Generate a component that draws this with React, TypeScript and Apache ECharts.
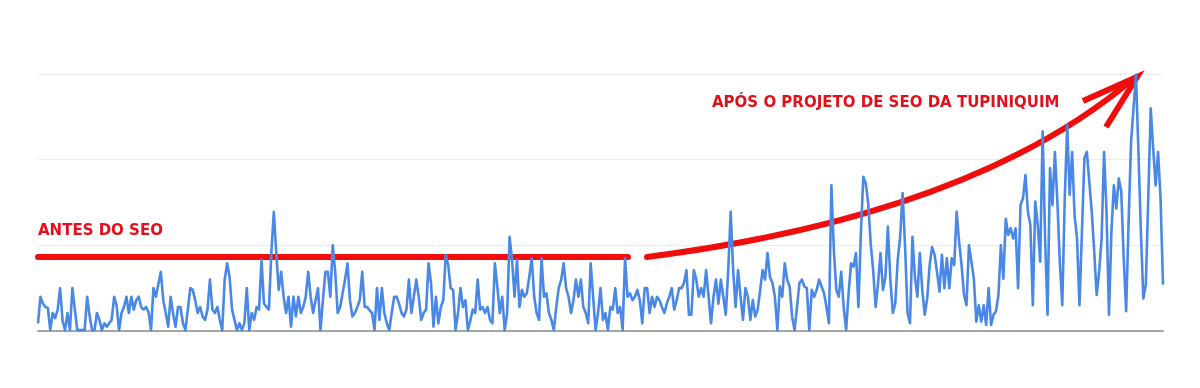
import React, { useEffect, useRef } from "react";
import * as echarts from "echarts";

// Daily sessions (y scale 0..300)
const periodA = [9, 40, 32, 28, 27, 1, 21, 15, 25, 50, 12, 1, 21, 1, 50, 25, 1, 1, 1, 1, 40, 18, 1, 1, 21, 13, 1, 9, 5, 9, 13, 40, 30, 1, 21, 28, 40, 21, 40, 25, 36, 40, 28, 25, 28, 22, 1, 50, 40, 55, 69, 36, 21, 5, 40, 20, 5, 28, 28];
const periodB = [9, 1, 25, 50, 48, 36, 21, 28, 17, 13, 25, 60, 25, 21, 28, 13, 1, 60, 79, 63, 25, 13, 1, 9, 1, 9, 50, 1, 21, 13, 28, 25, 83, 32, 28, 25, 91, 139, 91, 48, 69, 40, 21, 40, 5, 40, 17, 40, 21, 28, 40, 69, 40, 21, 36, 50];
const periodC = [1, 36, 69, 69, 40, 100, 69, 21, 28, 44, 60, 79, 36, 17, 21, 28, 36, 69, 28, 28, 24, 21, 1, 50, 13, 50, 21, 9, 1, 21, 40, 40, 32, 21, 17, 25, 60, 21, 40, 60, 40, 13, 21, 25, 79, 56, 5, 40, 9, 28, 36, 89, 77, 50, 48, 1, 21, 50, 28, 36, 1, 12, 25, 21, 60];
const periodD = [25, 28, 21, 28, 13, 9, 79, 52, 21, 40, 1, 21, 110, 83, 40, 83, 28, 48, 40, 44, 63, 85, 40, 21, 13, 85, 40, 44, 21, 13, 1, 28, 50, 60, 79, 50, 40, 21, 36, 60, 40, 60, 28, 21, 9, 79, 40, 1, 21, 50, 13, 21, 1, 28, 25, 50, 21, 28, 1, 85, 40, 44, 36];
const periodE = [40, 48, 36, 9, 50, 50, 21, 40, 28, 40, 36, 28, 21, 32, 40, 50, 25, 36, 50, 50, 56, 71, 19, 19, 71, 60, 40, 50, 40, 71, 40, 9, 40, 60, 32, 60, 40, 19, 71, 139, 71, 28, 71, 40, 13, 50, 40, 13, 36, 17, 25, 48, 71, 60, 91, 63, 56, 40, 1];
const periodF = [52, 40, 79, 60, 52, 17, 1, 28, 56, 60, 52, 50, 1, 48, 40, 48, 60, 52, 44, 28, 9, 170, 95, 48, 40, 69, 28, 1, 44, 79, 75, 91, 28, 114, 180, 172, 149, 102, 71, 28, 56, 91, 48, 63, 122, 60, 21, 32, 83, 110, 161, 98, 21, 9, 110, 63, 40, 91, 48];
const periodG = [19, 38, 77, 98, 89, 69, 46, 89, 50, 85, 50, 85, 77, 139, 104, 77, 42, 30, 100, 81, 61, 11, 30, 11, 30, 7, 50, 7, 19, 23, 42, 100, 61, 131, 112, 120, 108, 120, 50, 147, 155, 182, 139, 124, 30, 151, 124, 81, 233, 108, 19];
const periodH = [190, 147, 209, 151, 80, 30, 155, 240, 159, 209, 135, 108, 30, 116, 202, 209, 174, 139, 93, 42, 69, 108, 209, 140, 19, 116, 170, 143, 178, 163, 85, 23, 128, 221, 260, 299, 209, 116, 38, 54, 155, 260, 213, 170, 209, 155, 54];

const sessions = [...periodA, ...periodB, ...periodC, ...periodD, ...periodE, ...periodF, ...periodG, ...periodH];
const days = sessions.map((_, i) => `Dia ${i + 1}`);

const yMin = 0;
const yMax = 300;
const yInterval = 100;

const labelBefore = "ANTES DO SEO";
const labelAfter = "APÓS O PROJETO DE SEO DA TUPINIQUIM";

export default function App() {
  const ref = useRef<HTMLDivElement>(null);

  useEffect(() => {
    if (!ref.current) return;
    const chart = echarts.init(ref.current, null, { renderer: "svg" });
    const red = "#f20d0d";
    const textRed = "#e3101a";
    const labelFont = {
      fill: textRed,
      fontFamily: "DejaVu Sans",
      fontWeight: "bold",
      fontSize: 15,
      textVerticalAlign: "middle",
    };
    chart.setOption({
      animation: false,
      grid: { left: 38, right: 37, top: 74, bottom: 57 },
      xAxis: {
        type: "category",
        data: days,
        boundaryGap: false,
        axisLine: { show: true, lineStyle: { color: "#a6a6a6", width: 2 } },
        axisTick: { show: false },
        axisLabel: { show: false },
        splitLine: { show: false },
      },
      yAxis: {
        type: "value",
        min: yMin,
        max: yMax,
        interval: yInterval,
        axisLine: { show: false },
        axisTick: { show: false },
        axisLabel: { show: false },
        splitLine: { lineStyle: { color: "#ececec", width: 1 } },
      },
      series: [
        {
          type: "line",
          data: sessions,
          symbol: "none",
          z: 3,
          lineStyle: { color: "#4a88e6", width: 2.6, join: "round" },
        },
      ],
      graphic: [
        {
          type: "line",
          z: 1,
          shape: { x1: 38, y1: 257, x2: 628, y2: 257 },
          style: { stroke: red, lineWidth: 6, lineCap: "round" },
        },
        {
          type: "bezierCurve",
          z: 1,
          shape: { x1: 647, y1: 257, cpx1: 780, cpy1: 240, cpx2: 990, cpy2: 200, x2: 1133, y2: 79 },
          style: { stroke: red, lineWidth: 6, lineCap: "round", fill: "none" },
        },
        {
          type: "polyline",
          z: 1,
          shape: { points: [[1083, 101], [1137, 77], [1106, 127]] },
          style: { stroke: red, lineWidth: 6, lineJoin: "miter", fill: "none" },
        },
        {
          type: "text",
          z: 5,
          x: 38,
          y: 230,
          style: { ...labelFont, text: labelBefore, textAlign: "left" },
        },
        {
          type: "text",
          z: 5,
          x: 712,
          y: 102,
          style: { ...labelFont, text: labelAfter, textAlign: "left" },
        },
      ],
    });
    return () => chart.dispose();
  }, []);

  return (
    <div
      ref={ref}
      style={{ position: "fixed", left: 0, top: 0, width: 1200, height: 388 }}
    />
  );
}
